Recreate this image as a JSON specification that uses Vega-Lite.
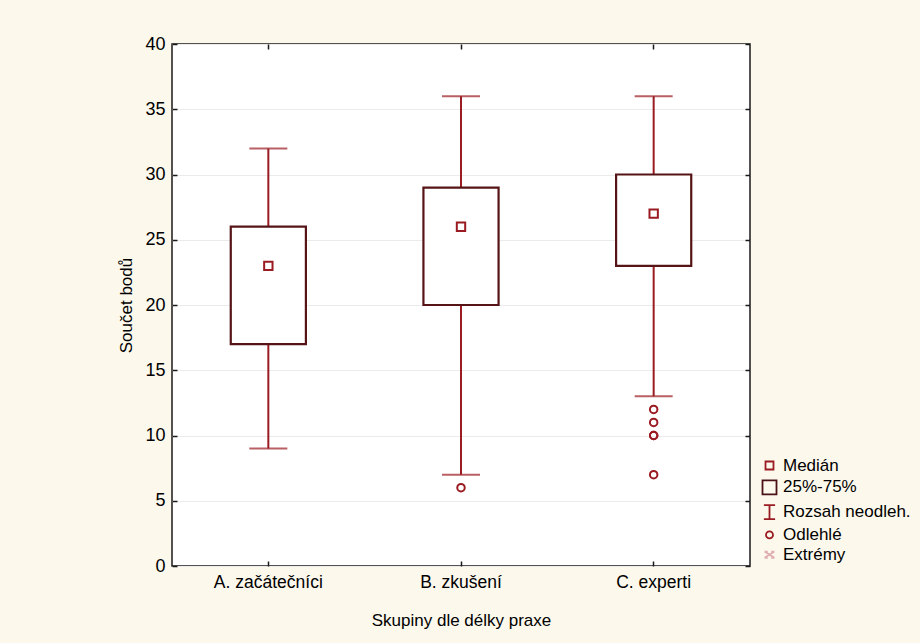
{
  "$schema": "https://vega.github.io/schema/vega-lite/v6.json",
  "width": 578,
  "height": 522,
  "autosize": {"type": "none"},
  "padding": {"left": 172, "top": 44, "right": 170, "bottom": 77},
  "background": "#fcf8ec",
  "config": {
    "font": "Liberation Sans",
    "view": {"fill": "white", "stroke": "#1a1a1a", "strokeWidth": 1.5},
    "axis": {
      "domain": false,
      "tickColor": "#1a1a1a",
      "tickWidth": 1.5,
      "tickSize": -5,
      "labelColor": "black",
      "labelFont": "Liberation Sans",
      "labelFontSize": 17.5,
      "titleFont": "Liberation Sans",
      "titleFontSize": 17,
      "titleFontWeight": "normal",
      "titleColor": "black"
    }
  },
  "resolve": {"axis": {"x": "independent", "y": "independent"}},
  "datasets": {
    "boxes": [
      {"skupina": "A. začátečníci", "min": 9, "q1": 17, "median": 23, "q3": 26, "max": 32},
      {"skupina": "B. zkušení", "min": 7, "q1": 20, "median": 26, "q3": 29, "max": 36},
      {"skupina": "C. experti", "min": 13, "q1": 23, "median": 27, "q3": 30, "max": 36}
    ],
    "outliers": [
      {"skupina": "B. zkušení", "body": 6},
      {"skupina": "C. experti", "body": 12},
      {"skupina": "C. experti", "body": 11},
      {"skupina": "C. experti", "body": 10},
      {"skupina": "C. experti", "body": 10},
      {"skupina": "C. experti", "body": 7}
    ],
    "legend": [
      {"skupina": "A. začátečníci", "body": -50, "polozka": "Medián"},
      {"skupina": "A. začátečníci", "body": -50, "polozka": "25%-75%"},
      {"skupina": "A. začátečníci", "body": -50, "polozka": "Rozsah neodleh."},
      {"skupina": "A. začátečníci", "body": -50, "polozka": "Odlehlé"},
      {"skupina": "A. začátečníci", "body": -50, "polozka": "Extrémy"}
    ]
  },
  "layer": [
    {
      "data": {"name": "boxes"},
      "mark": {"type": "rule", "color": "#9a1c22", "strokeWidth": 2},
      "encoding": {
        "x": {
          "field": "skupina", "type": "nominal",
          "scale": {"paddingInner": 0, "paddingOuter": 0},
          "axis": {"orient": "bottom", "title": "Skupiny dle délky praxe", "labelAngle": 0, "labelPadding": 12, "titlePadding": 22, "grid": false}
        },
        "y": {
          "field": "min", "type": "quantitative",
          "scale": {"domain": [0, 40], "nice": false},
          "axis": {"orient": "left", "title": "Součet bodů", "values": [0, 5, 10, 15, 20, 25, 30, 35, 40], "labelFontSize": 18, "grid": true, "gridColor": "#ebebeb", "gridWidth": 1, "labelPadding": 12, "titlePadding": 9}
        },
        "y2": {"field": "max"}
      }
    },
    {
      "data": {"name": "boxes"},
      "mark": {"type": "tick", "color": "#9a1c22", "thickness": 2, "size": 38},
      "encoding": {
        "x": {"field": "skupina", "type": "nominal", "axis": {"orient": "top", "labels": false, "title": null, "grid": false}},
        "y": {"field": "min", "type": "quantitative", "axis": {"orient": "right", "labels": false, "title": null, "grid": false, "values": [0, 5, 10, 15, 20, 25, 30, 35, 40]}}
      }
    },
    {
      "data": {"name": "boxes"},
      "mark": {"type": "tick", "color": "#9a1c22", "thickness": 2, "size": 38},
      "encoding": {
        "x": {"field": "skupina", "type": "nominal", "axis": null},
        "y": {"field": "max", "type": "quantitative", "axis": null}
      }
    },
    {
      "data": {"name": "boxes"},
      "mark": {"type": "bar", "fill": "white", "stroke": "#561416", "strokeWidth": 2.2, "width": {"band": 0.39}},
      "encoding": {
        "x": {"field": "skupina", "type": "nominal", "axis": null},
        "y": {"field": "q1", "type": "quantitative", "axis": null},
        "y2": {"field": "q3"}
      }
    },
    {
      "data": {"name": "boxes"},
      "mark": {"type": "point", "shape": "square", "filled": false, "color": "#9a1c22", "strokeWidth": 2, "size": 70, "opacity": 1},
      "encoding": {
        "x": {"field": "skupina", "type": "nominal", "axis": null},
        "y": {"field": "median", "type": "quantitative", "axis": null}
      }
    },
    {
      "data": {"name": "outliers"},
      "mark": {"type": "point", "shape": "circle", "filled": false, "color": "#9a1c22", "strokeWidth": 2, "size": 56, "opacity": 1},
      "encoding": {
        "x": {"field": "skupina", "type": "nominal", "axis": null},
        "y": {"field": "body", "type": "quantitative", "axis": null}
      }
    },
    {
      "data": {"name": "legend"},
      "mark": {"type": "point", "filled": false, "clip": true, "strokeWidth": 2, "size": 196, "opacity": 1},
      "encoding": {
        "x": {"field": "skupina", "type": "nominal", "axis": null},
        "y": {"field": "body", "type": "quantitative", "axis": null},
        "shape": {
          "field": "polozka", "type": "nominal",
          "scale": {
            "domain": ["Medián", "25%-75%", "Rozsah neodleh.", "Odlehlé", "Extrémy"],
            "range": [
              "M-0.57,-0.57H0.57V0.57H-0.57Z",
              "M-1,-1H1V1H-1Z",
              "M-0.8,-1H0.8M0,-1V1M-0.8,1H0.8",
              "M0.5,0A0.5,0.5,0,1,1,-0.5,0A0.5,0.5,0,1,1,0.5,0",
              "M-0.7,-0.45L0.7,0.45M-0.7,0.45L0.7,-0.45M-0.7,-0.45H-0.25M0.25,-0.45H0.7M-0.7,0.45H-0.25M0.25,0.45H0.7"
            ]
          },
          "legend": {
            "title": null,
            "orient": "none",
            "legendX": 589,
            "legendY": 413,
            "labelFontSize": 17,
            "labelFont": "Liberation Sans",
            "labelColor": "black",
            "labelOffset": 5,
            "rowPadding": 1.8,
            "symbolSize": 196,
            "symbolStrokeWidth": 1.8,
            "symbolFillColor": "transparent"
          }
        },
        "stroke": {
          "field": "polozka", "type": "nominal",
          "scale": {
            "domain": ["Medián", "25%-75%", "Rozsah neodleh.", "Odlehlé", "Extrémy"],
            "range": ["#9a1c22", "#4a1214", "#9a1c22", "#9a1c22", "#e0aeb0"]
          }
        }
      }
    }
  ]
}
